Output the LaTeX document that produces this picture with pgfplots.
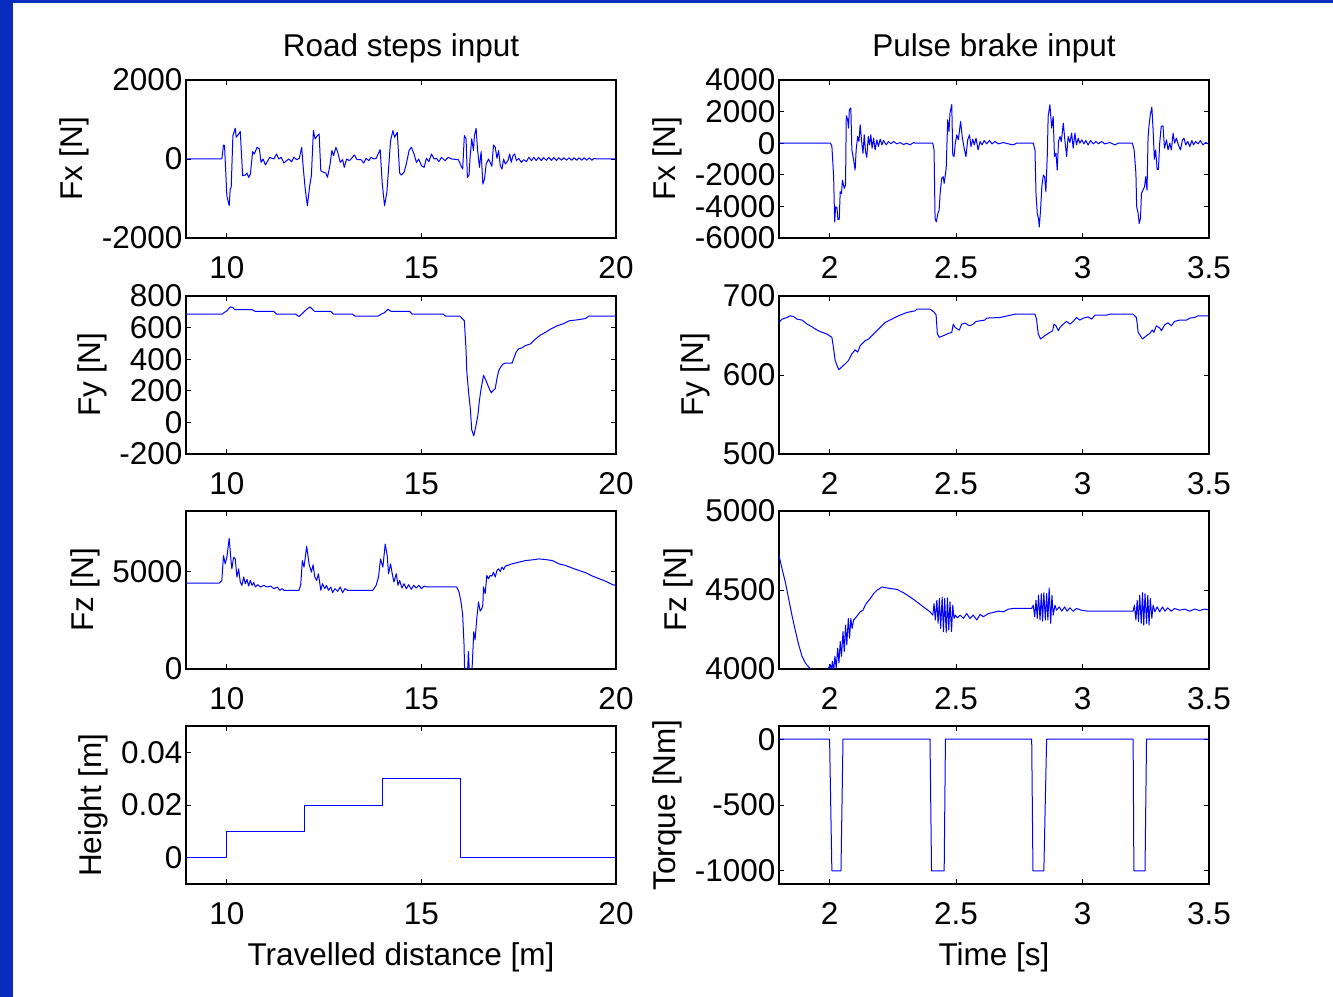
\documentclass[border=0pt]{standalone}
\usepackage{fontspec}
\setmainfont{Liberation Sans}
\usepackage{pgfplots}
\pgfplotsset{compat=1.18}
\definecolor{frameblue}{RGB}{8,44,190}
\definecolor{lineblue}{RGB}{0,0,255}
\newcommand\ff{\fontsize{31.5bp}{37bp}\selectfont}
\pgfplotsset{
 mat/.style={scale only axis, width=430bp, height=158bp, anchor=south west,
   font=\ff, tick label style={font=\ff}, label style={font=\ff}, title style={font=\ff, yshift=7bp},
   axis line style={line width=1.2bp}, tick style={line width=0.9bp, black},
   major tick length=5bp, tick align=inside,
   /pgf/number format/assume math mode=true, /pgf/number format/1000 sep={},
   /pgf/number format/fixed, /pgf/number format/precision=2,
   scaled ticks=false,
   xticklabel style={yshift=-15bp},
   xlabel style={yshift=-11bp},
   ylabel style={yshift=6bp},
 },
 L/.style={mat, xmin=8.95, xmax=20, xtick={10,15,20}},
 R/.style={mat, xmin=1.8, xmax=3.5, xtick={2,2.5,3,3.5}},
 sig/.style={lineblue, line width=1bp, line join=round},
}
\begin{document}
\begin{tikzpicture}
\useasboundingbox (0,0) rectangle (1333bp,997bp);
\fill[white] (0,0) rectangle (1333bp,997bp);
\fill[frameblue] (0,0) rectangle (12.5bp,997bp);
\fill[frameblue] (0,994bp) rectangle (1333bp,997bp);

% Row 1 left: Fx
\begin{axis}[L, at={(186bp,759bp)}, ymin=-2000, ymax=2000, ytick={-2000,0,2000},
  ylabel={Fx [N]}, title={Road steps input}]
\addplot[sig] coordinates {
(8.95,0)(9.871,0)(9.914,355)(9.940,338)(10.000,-931)(10.060,-1184)(10.086,-761)(10.112,-719)
(10.155,592)(10.216,778)(10.241,550)(10.302,635)(10.345,694)(10.405,-423)(10.474,-406)(10.517,-355)
(10.560,-465)(10.603,-381)(10.664,186)(10.707,127)(10.776,296)(10.836,254)(10.879,-85)(10.931,0)
(10.991,-152)(11.052,-42)(11.103,42)(11.207,0)(11.276,127)(11.336,0)(11.397,42)(11.466,-102)
(11.534,-42)(11.595,0)(11.664,-68)(11.724,42)(11.793,-17)(11.862,17)(11.922,296)(11.966,-254)
(12.009,-719)(12.069,-1184)(12.129,-677)(12.172,-423)(12.224,719)(12.267,508)(12.328,592)(12.371,635)
(12.414,-296)(12.483,-338)(12.543,-355)(12.586,-465)(12.647,-169)(12.698,212)(12.741,85)(12.802,296)
(12.845,186)(12.914,-85)(12.974,-17)(13.017,-212)(13.078,0)(13.147,-42)(13.207,17)(13.276,102)
(13.345,-17)(13.448,-17)(13.517,-102)(13.578,17)(13.647,-42)(13.707,42)(13.776,0)(13.836,17)
(13.940,237)(13.991,-592)(14.052,-1184)(14.112,-846)(14.155,-254)(14.207,465)(14.267,719)(14.310,550)
(14.379,677)(14.440,-355)(14.483,-406)(14.552,-338)(14.612,-127)(14.681,212)(14.741,296)(14.810,127)
(14.871,-85)(14.931,0)(15.000,-169)(15.069,-212)(15.129,17)(15.190,-68)(15.259,127)(15.328,0)
(15.388,17)(15.448,-68)(15.517,42)(15.603,-42)(15.690,42)(15.776,0)(15.948,-17)(16.017,-169)
(16.060,-254)(16.103,592)(16.147,508)(16.181,-465)(16.224,-406)(16.250,42)(16.293,508)(16.336,212)
(16.362,592)(16.405,778)(16.440,254)(16.491,-212)(16.534,186)(16.578,-635)(16.621,-508)(16.664,-127)
(16.724,0)(16.767,-85)(16.810,-186)(16.853,355)(16.897,296)(16.940,17)(16.983,212)(17.026,-169)
(17.069,-254)(17.112,0)(17.155,-127)(17.224,-42)(17.267,127)(17.310,-85)(17.353,85)(17.397,127)
(17.440,-42)(17.500,17)(17.569,-85)(17.629,-17)(17.698,-68)(17.759,42)(17.828,-42)(17.888,42)
(17.95,-40)(18.01,40)(18.08,-40)(18.14,35)(18.21,-35)(18.27,35)(18.34,-35)(18.40,35)(18.47,-35)
(18.53,30)(18.60,-30)(18.66,30)(18.73,-30)(18.79,30)(18.86,-30)(18.92,30)(18.99,-30)(19.05,30)
(19.12,-30)(19.18,30)(19.25,-30)(19.31,30)(19.38,-30)(19.44,20)(19.50,0)(20,0)
};
\end{axis}

% Row 1 right: Fx
\begin{axis}[R, at={(779bp,759bp)}, ymin=-6000, ymax=4000, ytick={-6000,-4000,-2000,0,2000,4000},
  ylabel={Fx [N]}, title={Pulse brake input}]
\addplot[sig] coordinates {
(1.8,0)(2.003,0)(2.009,-170)(2.016,-2120)(2.020,-4982)(2.024,-4028)(2.029,-4070)(2.033,-4834)
(2.038,-4834)(2.042,-3074)(2.047,-3180)(2.051,-2332)(2.058,-2862)(2.063,-2650)(2.066,1738)(2.071,1526)
(2.075,954)(2.078,2120)(2.084,2226)(2.088,-424)(2.095,-1060)(2.101,-1696)(2.105,-424)(2.111,424)
(2.116,106)(2.121,1166)(2.126,212)(2.132,-636)(2.137,530)(2.142,-530)(2.147,-890)(2.153,424)
(2.158,-106)(2.163,530)(2.168,-318)(2.174,318)(2.180,-424)(2.187,212)(2.193,-212)(2.200,254)
(2.207,-106)(2.213,170)(2.224,-106)(2.233,106)(2.242,-42)(2.253,106)(2.266,-42)(2.279,42)
(2.292,-85)(2.305,0)(2.318,-106)(2.332,42)(2.340,0)(2.408,0)
(2.413,-424)(2.417,-4770)(2.422,-4982)(2.428,-4452)(2.433,-4240)(2.437,-3180)(2.443,-2226)(2.449,-2120)
(2.453,-2544)(2.461,-1590)(2.467,1484)(2.472,742)(2.476,1908)(2.483,2438)(2.487,-742)(2.492,-848)
(2.497,0)(2.503,530)(2.509,212)(2.518,1378)(2.525,318)(2.532,-318)(2.539,-848)(2.546,212)
(2.553,530)(2.559,-212)(2.566,254)(2.572,-106)(2.579,318)(2.587,-424)(2.595,106)(2.603,-106)
(2.611,170)(2.621,-42)(2.632,170)(2.642,-42)(2.654,106)(2.667,-42)(2.687,42)(2.707,-42)
(2.726,-106)(2.739,0)(2.805,0)
(2.812,-424)(2.816,-3180)(2.821,-4452)(2.826,-4770)(2.829,-5300)(2.834,-4240)(2.839,-2756)(2.845,-2014)
(2.850,-2120)(2.855,-3074)(2.861,-636)(2.864,1696)(2.871,2438)(2.878,954)(2.884,1696)(2.889,-848)
(2.895,-636)(2.900,-1696)(2.905,106)(2.911,424)(2.916,106)(2.924,1272)(2.930,212)(2.937,-848)
(2.943,424)(2.950,42)(2.957,636)(2.963,-318)(2.970,636)(2.976,-106)(2.983,318)(2.989,0)
(2.997,212)(3.005,-42)(3.013,170)(3.022,-106)(3.032,170)(3.042,-42)(3.053,106)(3.063,-42)
(3.075,106)(3.088,-42)(3.108,42)(3.128,-106)(3.141,0)(3.197,0)
(3.204,-424)(3.211,-1908)(3.214,-4028)(3.220,-4452)(3.224,-5088)(3.229,-4770)(3.233,-3180)(3.239,-2968)
(3.245,-2756)(3.250,-2120)(3.255,-2968)(3.259,318)(3.263,1166)(3.268,1802)(3.274,2290)(3.279,848)
(3.284,-1018)(3.289,-424)(3.295,-1654)(3.300,-1654)(3.305,0)(3.311,1060)(3.318,1102)(3.324,-318)
(3.332,212)(3.338,-424)(3.345,0)(3.351,-424)(3.358,636)(3.364,0)(3.371,318)(3.379,-106)
(3.387,-424)(3.395,212)(3.401,318)(3.408,-106)(3.416,106)(3.424,-212)(3.432,170)(3.439,-106)
(3.447,106)(3.457,-42)(3.466,170)(3.476,-106)(3.487,42)(3.497,-42)
};
\end{axis}

% Row 2 left: Fy
\begin{axis}[L, at={(186bp,543bp)}, ymin=-200, ymax=800, ytick={-200,0,200,400,600,800},
  ylabel={Fy [N]}]
\addplot[sig] coordinates {
(8.95,685)(9.871,685)(9.931,695)(10.000,706)(10.086,731)(10.155,727)(10.198,714)(10.647,714)
(10.733,702)(11.207,702)(11.276,685)(11.767,685)(11.853,670)(11.940,689)(12.052,716)(12.138,731)
(12.198,716)(12.259,702)(12.672,702)(12.741,685)(13.233,685)(13.293,672)(13.879,672)(13.966,685)
(14.052,695)(14.138,716)(14.224,702)(14.698,702)(14.767,685)(15.560,685)(15.621,672)(15.991,672)
(16.103,643)(16.147,455)(16.164,329)(16.207,204)(16.259,78)(16.293,-47)(16.345,-85)(16.397,-26)
(16.448,41)(16.491,141)(16.534,214)(16.595,298)(16.655,267)(16.724,225)(16.793,187)(16.853,204)
(16.897,214)(16.940,277)(16.983,325)(17.026,346)(17.086,367)(17.155,375)(17.328,375)(17.371,403)
(17.431,444)(17.500,466)(17.586,472)(17.672,486)(17.802,497)(17.931,528)(18.060,553)(18.190,570)
(18.319,591)(18.491,612)(18.664,626)(18.793,643)(19.009,649)(19.224,658)(19.293,672)(20,672)
};
\end{axis}

% Row 2 right: Fy
\begin{axis}[R, at={(779bp,543bp)}, ymin=500, ymax=700, ytick={500,600,700},
  ylabel={Fy [N]}]
\addplot[sig] coordinates {
(1.8,666.5)(1.812,670.7)(1.832,672.8)(1.845,674.9)(1.858,674)(1.871,670.7)(1.891,669.5)(1.911,664.4)
(1.930,661.1)(1.950,656.9)(1.970,654)(1.989,651.9)(2.009,647.7)(2.016,633)(2.022,618.4)(2.036,606.7)
(2.055,612.1)(2.075,618.4)(2.088,626.8)(2.101,631.8)(2.111,628.9)(2.121,637.2)(2.141,643.5)(2.154,645.6)
(2.161,647.7)(2.187,656.1)(2.220,666.5)(2.246,670.7)(2.272,674.9)(2.305,679.1)(2.338,681.2)(2.345,683.3)
(2.397,683.3)(2.411,680.3)(2.421,676.2)(2.426,651.9)(2.434,647.7)(2.450,649.8)(2.470,652.7)(2.483,654)
(2.489,664.4)(2.496,660.2)(2.505,658.2)(2.513,656.9)(2.522,664.4)(2.536,665.7)(2.545,663.6)(2.555,662.3)
(2.568,664.4)(2.579,667.8)(2.614,669.5)(2.621,672)(2.674,672.8)(2.733,677)(2.812,677)(2.818,670.7)
(2.825,651.9)(2.834,645.6)(2.851,649.8)(2.871,654)(2.882,656.1)(2.887,664.4)(2.895,662.3)(2.904,656.1)
(2.911,660.2)(2.924,664.4)(2.937,667.8)(2.950,664.4)(2.963,667.8)(2.976,672.8)(2.989,669.5)(3.003,672)
(3.022,673.6)(3.036,670.7)(3.049,675.8)(3.095,675.8)(3.108,677)(3.200,677)(3.213,672.8)(3.220,654)
(3.237,645.6)(3.253,649.8)(3.266,652.7)(3.276,656.9)(3.282,654)(3.292,662.3)(3.305,659.4)(3.312,656.1)
(3.325,663.6)(3.338,666.1)(3.351,662.3)(3.364,667.8)(3.384,669.5)(3.411,669.5)(3.424,672)(3.443,672.8)
(3.457,674.9)(3.497,674.9)
};
\end{axis}

% Row 3 left: Fz
\begin{axis}[L, at={(186bp,328bp)}, ymin=0, ymax=8100, ytick={0,5000},
  ylabel={Fz [N]}]
\addplot[sig] coordinates {
(8.95,4407)(9.810,4407)(9.871,4543)(9.914,5814)(9.957,5390)(10.000,5729)(10.060,6695)(10.103,5644)
(10.129,5136)(10.172,5729)(10.216,5644)(10.259,4712)(10.302,5136)(10.345,4458)(10.388,4288)(10.431,4712)
(10.474,4373)(10.517,4593)(10.560,4254)(10.603,4543)(10.647,4288)(10.690,4424)(10.733,4204)(10.793,4322)
(10.862,4204)(10.948,4288)(11.034,4204)(11.121,4254)(11.207,4119)(11.293,4204)(11.362,4034)(11.422,4119)
(11.466,4034)(11.853,4034)(11.897,4288)(11.940,5560)(11.983,5221)(12.052,6288)(12.112,5390)(12.172,4966)
(12.216,5339)(12.259,4712)(12.310,4543)(12.353,4882)(12.414,4034)(12.457,4373)(12.517,4119)(12.560,4288)
(12.612,4034)(12.672,4204)(12.716,3915)(12.776,4119)(12.845,3983)(12.914,4204)(12.974,3915)(13.034,4119)
(13.103,4034)(13.750,4034)(13.836,4288)(13.897,4712)(13.948,5644)(14.009,5221)(14.069,6407)(14.121,5814)
(14.155,4882)(14.207,5390)(14.250,4882)(14.293,4458)(14.353,4882)(14.397,4288)(14.440,4543)(14.500,4153)
(14.552,4373)(14.612,4119)(14.672,4322)(14.741,4085)(14.802,4288)(14.871,4153)(14.931,4288)(15.000,4119)
(15.069,4254)(15.129,4204)(15.905,4204)(15.966,3949)(16.017,3441)(16.060,2763)(16.095,1237)(16.121,-1136)
(16.172,-797)(16.207,898)(16.241,-458)(16.276,-1136)(16.310,390)(16.345,1915)(16.379,1492)(16.422,2593)
(16.466,3441)(16.509,2966)(16.552,3102)(16.578,3271)(16.595,4204)(16.638,3865)(16.681,4797)(16.724,4627)
(16.767,4797)(16.810,4763)(16.853,4966)(16.897,4712)(16.940,5051)(16.983,5136)(17.026,5000)(17.069,5221)
(17.112,5102)(17.155,5271)(17.328,5390)(17.500,5475)(17.672,5560)(17.845,5593)(18.017,5644)(18.190,5610)
(18.362,5560)(18.534,5390)(18.707,5305)(18.879,5170)(19.052,5051)(19.224,4932)(19.397,4763)(19.569,4627)
(19.741,4492)(19.914,4322)(20,4288)
};
\end{axis}

% Row 3 right: Fz
\begin{axis}[R, at={(779bp,328bp)}, ymin=4000, ymax=5000, ytick={4000,4500,5000},
  ylabel={Fz [N]}]
\addplot[sig] coordinates {
(1.8,4718)(1.812,4634)(1.825,4550)(1.838,4446)(1.851,4341)(1.864,4247)(1.878,4153)(1.891,4080)
(1.904,4038)(1.924,4000)(1.930,3985)(1.950,3975)(1.983,3985)(1.996,4006)(2.003,4027)(2.007,3985)
(2.011,4048)(2.016,3985)(2.021,4080)(2.026,4006)(2.032,4132)(2.037,4038)(2.042,4174)(2.047,4080)
(2.053,4236)(2.058,4111)(2.063,4278)(2.068,4153)(2.074,4320)(2.079,4195)(2.084,4320)(2.089,4257)
(2.095,4310)(2.101,4320)(2.111,4341)(2.121,4362)(2.132,4372)(2.141,4404)(2.150,4425)(2.161,4446)
(2.174,4477)(2.187,4498)(2.207,4519)(2.226,4513)(2.246,4508)(2.266,4504)(2.292,4483)(2.318,4456)
(2.345,4425)(2.371,4393)(2.397,4362)(2.408,4341)
(2.413,4414)(2.418,4310)(2.424,4435)(2.429,4289)(2.434,4446)(2.439,4257)(2.445,4456)(2.450,4236)
(2.455,4446)(2.461,4232)(2.466,4450)(2.471,4247)(2.476,4425)(2.482,4236)(2.487,4404)(2.492,4320)
(2.497,4341)(2.505,4324)(2.516,4341)(2.529,4320)(2.542,4351)(2.555,4320)(2.568,4341)(2.582,4310)
(2.595,4345)(2.608,4331)(2.628,4351)(2.647,4358)(2.667,4366)(2.687,4362)(2.707,4379)(2.726,4383)
(2.799,4383)
(2.805,4404)(2.811,4331)(2.816,4435)(2.821,4320)(2.826,4467)(2.832,4310)(2.837,4477)(2.842,4303)
(2.847,4483)(2.853,4310)(2.858,4477)(2.863,4310)(2.868,4513)(2.874,4289)(2.879,4467)(2.884,4341)
(2.891,4404)(2.897,4372)(2.908,4393)(2.918,4366)(2.929,4393)(2.939,4366)(2.950,4387)(2.963,4366)
(2.976,4383)(2.996,4372)(3.022,4366)(3.200,4366)
(3.205,4404)(3.211,4310)(3.216,4435)(3.221,4299)(3.226,4467)(3.232,4289)(3.237,4483)(3.242,4278)
(3.247,4477)(3.253,4289)(3.258,4467)(3.263,4278)(3.268,4446)(3.274,4320)(3.279,4404)(3.286,4362)
(3.295,4393)(3.305,4362)(3.316,4393)(3.326,4366)(3.337,4387)(3.351,4366)(3.364,4383)(3.384,4372)
(3.404,4379)(3.424,4366)(3.443,4379)(3.463,4370)(3.482,4379)(3.497,4375)
};
\end{axis}

% Row 4 left: Height
\begin{axis}[L, at={(186bp,113bp)}, ymin=-0.01, ymax=0.05, ytick={0,0.02,0.04},
  ylabel={Height [m]}, xlabel={Travelled distance [m]}]
\addplot[sig] coordinates {
(8.95,0)(10,0)(10,0.01)(12,0.01)(12,0.02)(14,0.02)(14,0.03)(16,0.03)(16,0)(20,0)
};
\end{axis}

% Row 4 right: Torque
\begin{axis}[R, at={(779bp,113bp)}, ymin=-1100, ymax=100, ytick={-1000,-500,0},
  ylabel={Torque [Nm]}, xlabel={Time [s]}]
\addplot[sig] coordinates {
(1.8,0)(2.000,0)(2.009,-1000)(2.045,-1000)(2.053,0)
(2.397,0)(2.403,-1000)(2.453,-1000)(2.458,0)
(2.799,0)(2.804,-1000)(2.847,-1000)(2.858,0)
(3.200,0)(3.203,-1000)(3.247,-1000)(3.253,0)(3.5,0)
};
\end{axis}
\end{tikzpicture}
\end{document}
